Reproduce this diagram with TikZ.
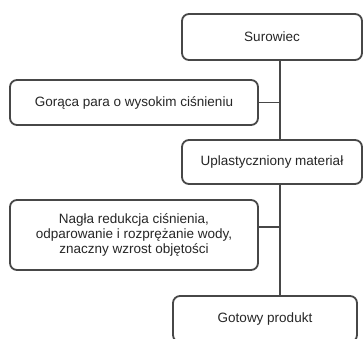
\documentclass[tikz,border=0pt]{standalone}
\usepackage{fontspec}
\setmainfont{Liberation Sans}
\usepackage{tikz}

\begin{document}
\begin{tikzpicture}[x=1pt, y=-1pt,
  boxStyle/.style={draw=black!72, line width=1.8pt, rounded corners=7pt, fill=white, text=black!85, align=center, font=\fontsize{13.5}{15}\selectfont, inner sep=0pt},
  linkStyle/.style={draw=black!72, line width=1.8pt}
]
\clip (0, 0) rectangle (363, 338);

\node [boxStyle, minimum width=180pt, minimum height=46pt] (sur)   at (272, 37)    {Surowiec};
\node [boxStyle, minimum width=248pt, minimum height=45pt] (para)  at (134, 102.5) {Gorąca para o wysokim ciśnieniu};
\node [boxStyle, minimum width=180pt, minimum height=44pt] (upl)   at (272, 162)   {Uplastyczniony materiał};
\node [boxStyle, minimum width=248pt, minimum height=70pt] (nagla) at (134, 235)   {Nagła redukcja ciśnienia,\\odparowanie i rozprężanie wody,\\znaczny wzrost objętości};
\node [boxStyle, minimum width=184pt, minimum height=46pt] (got)   at (265, 319)   {Gotowy produkt};

\coordinate (trunk) at (280, 0);
\coordinate (naglaLink) at ([yshift=8pt]nagla.east);

\draw [linkStyle] (sur.south -| trunk) -- (upl.north -| trunk);
\draw [linkStyle] (para.east) -- (para.east -| trunk);
\draw [linkStyle] (upl.south -| trunk) -- (got.north -| trunk);
\draw [linkStyle] (naglaLink) -- (naglaLink -| trunk);
\end{tikzpicture}
\end{document}
